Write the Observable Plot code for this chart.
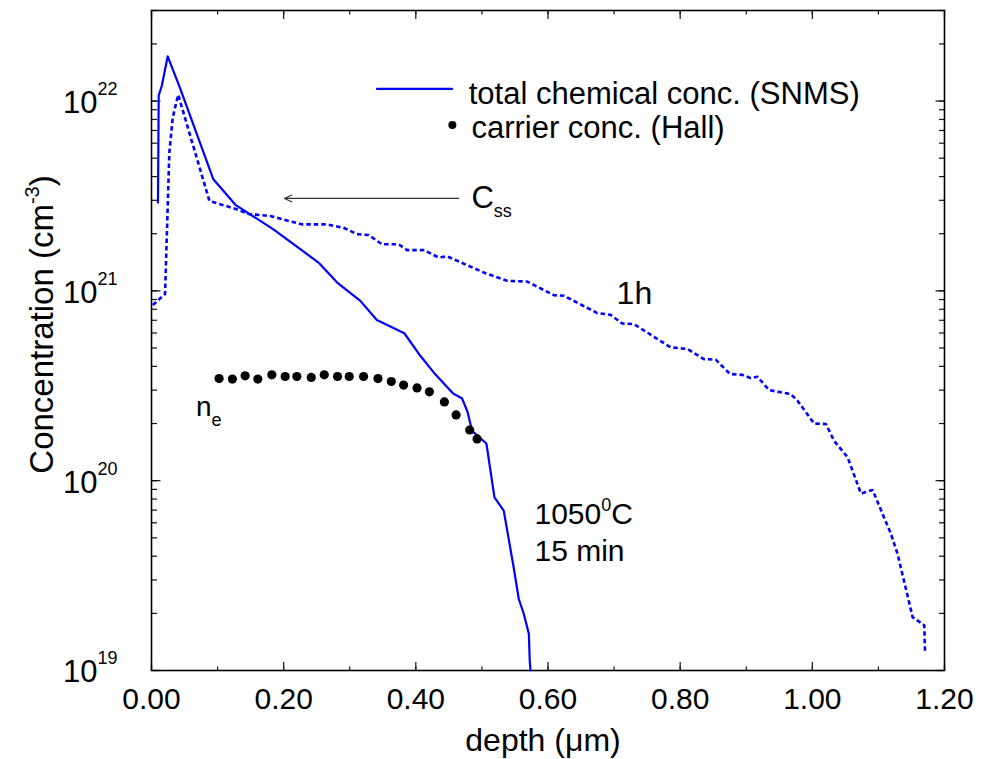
<!DOCTYPE html>
<html><head><meta charset="utf-8">
<script src="https://cdn.jsdelivr.net/npm/d3@7"></script>
<script src="https://cdn.jsdelivr.net/npm/@observablehq/plot@0.6"></script>
<style>body{margin:0;background:#fff}</style>
</head><body><div id="chart"></div>
<script>
// ---- data (depth in µm, concentration in cm^-3) ----
const snmsDepth = [0.0098, 0.0109, 0.0155, 0.0245, 0.0421, 0.0936, 0.127, 0.1845, 0.2527, 0.2806, 0.316, 0.341, 0.3826, 0.4068, 0.427, 0.4564, 0.470, 0.4785, 0.485, 0.5068, 0.519, 0.533, 0.548, 0.5558, 0.5633, 0.571, 0.5724, 0.5735];
const snmsConc = [2.92e21, 1.07e22, 1.20e22, 1.72e22, 1.20e22, 3.87e21, 2.84e21, 2.11e21, 1.41e21, 1.11e21, 8.86e20, 7.03e20, 5.98e20, 4.55e20, 3.72e20, 2.88e20, 2.71e20, 2.29e20, 1.83e20, 1.57e20, 8.17e19, 6.95e19, 3.50e19, 2.38e19, 1.99e19, 1.56e19, 1.12e19, 1.0e19];

const oneHourDepth = [0.002, 0.0205, 0.027, 0.0321, 0.038, 0.0406, 0.0432, 0.0876, 0.129, 0.1467, 0.1795, 0.2276, 0.2655, 0.2906, 0.311, 0.3285, 0.3488, 0.374, 0.3867, 0.4118, 0.4345, 0.4473, 0.5027, 0.538, 0.5685, 0.6088, 0.624, 0.6745, 0.6947, 0.7124, 0.730, 0.7856, 0.811, 0.836, 0.8538, 0.8755, 0.8942, 0.9068, 0.917, 0.9345, 0.9674, 0.9776, 1.0027, 1.0205, 1.033, 1.0533, 1.0735, 1.0912, 1.119, 1.129, 1.1518, 1.1694, 1.1705];
const oneHourConc = [8.43e20, 9.62e20, 5.35e21, 8.17e21, 1.0e22, 1.08e22, 1.0e22, 2.98e21, 2.69e21, 2.54e21, 2.48e21, 2.24e21, 2.24e21, 2.15e21, 1.99e21, 1.97e21, 1.76e21, 1.76e21, 1.64e21, 1.64e21, 1.50e21, 1.52e21, 1.25e21, 1.13e21, 1.12e21, 9.49e20, 9.43e20, 7.64e20, 7.48e20, 6.73e20, 6.68e20, 5.04e20, 4.94e20, 4.37e20, 4.34e20, 3.65e20, 3.61e20, 3.47e20, 3.53e20, 3.0e20, 2.86e20, 2.64e20, 2.0e20, 1.99e20, 1.62e20, 1.33e20, 8.57e19, 8.93e19, 5.24e19, 4.11e19, 1.91e19, 1.73e19, 1.25e19];

const hallDepth = [0.1023, 0.1224, 0.1417, 0.1609, 0.1821, 0.2023, 0.22, 0.2417, 0.2614, 0.2815, 0.2992, 0.3209, 0.3427, 0.3629, 0.3815, 0.4018, 0.4205, 0.4432, 0.4609, 0.4815, 0.4927];
const hallConc = [3.45e20, 3.43e20, 3.57e20, 3.43e20, 3.61e20, 3.54e20, 3.54e20, 3.50e20, 3.61e20, 3.54e20, 3.54e20, 3.54e20, 3.45e20, 3.33e20, 3.19e20, 3.08e20, 2.94e20, 2.60e20, 2.22e20, 1.85e20, 1.66e20];

const xTickLabels = [0, 0.2, 0.4, 0.6, 0.8, 1.0, 1.2];
const yTickLabels = [1e19, 1e20, 1e21, 1e22];
const legendLabels = ["total chemical conc. (SNMS)", "carrier conc. (Hall)"];
const xTitle = "depth (μm)";
const yTitle = "Concentration (cm^{-3})";

// annotation anchors in data coordinates
const legendLine = [{depth: 0.3412, conc: 1.16e22}, {depth: 0.4549, conc: 1.16e22}];
const legendDot = [{depth: 0.4553, conc: 7.48e21}];
const legendText = [
  {depth: 0.48, conc: 9.6e21, label: legendLabels[0]},
  {depth: 0.4841, conc: 6.4e21, label: legendLabels[1]}
];
const notes = [
  {depth: 0.4841, conc: 2.72e21, label: "C_{ss}", size: 31},
  {depth: 0.7038, conc: 8.57e20, label: "1h", size: 32},
  {depth: 0.0674, conc: 2.20e20, label: "n_{e}", size: 28},
  {depth: 0.5795, conc: 5.89e19, label: "1050^{0}C", size: 30},
  {depth: 0.5795, conc: 3.79e19, label: "15 min", size: 30}
];
const cssArrow = [{from: 0.4648, to: 0.2012, conc: 3.07e21}];

// ---- build tables ----
const snms = snmsDepth.map((d, i) => ({depth: d, conc: snmsConc[i]}));
const oneHour = oneHourDepth.map((d, i) => ({depth: d, conc: oneHourConc[i]}));
const hall = hallDepth.map((d, i) => ({depth: d, conc: hallConc[i]}));

const minorY = [];
for (let e = 19; e <= 22; e++) for (let k = 1; k <= 9; k++) { const v = k * 10 ** e; if (v <= 3e22) minorY.push(v); }
const minorX = d3.range(0, 13).map(v => v / 10);

const font = "'Liberation Sans', Arial, Helvetica, sans-serif";
const blue = "#0000ff";
const blank = () => "";

const W = 981, H = 759, mT = 10, mB = 89, mL = 151, mR = 37;
const fw = W - mL - mR, fh = H - mT - mB;

// inward ticks: use the opposite-side axis shifted across the frame
const tickAxes = [];
const tk = {tickFormat: blank, label: null, stroke: "#111", strokeWidth: 1.2};
tickAxes.push(Plot.axisX({anchor: "top", dy: fh, ticks: minorX, tickSize: 4.5, ...tk}));   // bottom, inward
tickAxes.push(Plot.axisX({anchor: "top", dy: fh, ticks: xTickLabels, tickSize: 9, ...tk}));
tickAxes.push(Plot.axisX({anchor: "bottom", dy: -fh, ticks: minorX, tickSize: 4.5, ...tk})); // top, inward
tickAxes.push(Plot.axisX({anchor: "bottom", dy: -fh, ticks: xTickLabels, tickSize: 9, ...tk}));
tickAxes.push(Plot.axisY({anchor: "right", dx: -fw, ticks: minorY, tickSize: 5, ...tk}));   // left, inward
tickAxes.push(Plot.axisY({anchor: "right", dx: -fw, ticks: yTickLabels, tickSize: 8.5, ...tk}));
tickAxes.push(Plot.axisY({anchor: "left", dx: fw, ticks: minorY, tickSize: 5, ...tk}));     // right, inward
tickAxes.push(Plot.axisY({anchor: "left", dx: fw, ticks: yTickLabels, tickSize: 8.5, ...tk}));

const svg = Plot.plot({
  width: W, height: H,
  marginTop: mT, marginBottom: mB, marginLeft: mL, marginRight: mR,
  style: {fontFamily: font, background: "white", color: "black", overflow: "visible"},
  x: {domain: [0, 1.2]},
  y: {type: "log", domain: [1e19, 3e22]},
  marks: [
    ...tickAxes,
    Plot.axisX({anchor: "bottom", ticks: xTickLabels, tickSize: 0, tickPadding: 17, tickFormat: d3.format(".2f"), fontSize: 30, label: null}),
    Plot.axisY({anchor: "left", ticks: yTickLabels, tickSize: 0, tickPadding: 34, dy: 2, tickFormat: d => `10^{${Math.round(Math.log10(d))}}`, fontSize: 31, label: null}),
    Plot.frame({stroke: "black", strokeWidth: 1.6}),
    Plot.line(oneHour, {x: "depth", y: "conc", stroke: blue, strokeWidth: 2.6, strokeDasharray: "4.5,3", strokeLinecap: "butt"}),
    Plot.line(snms, {x: "depth", y: "conc", stroke: blue, strokeWidth: 2.2}),
    Plot.dot(hall, {x: "depth", y: "conc", r: 4.6, fill: "black", stroke: null}),
    // legend
    Plot.line(legendLine, {x: "depth", y: "conc", stroke: blue, strokeWidth: 2.2}),
    Plot.dot(legendDot, {x: "depth", y: "conc", r: 4, fill: "black", stroke: null}),
    Plot.text(legendText, {x: "depth", y: "conc", text: "label", textAnchor: "start", lineAnchor: "bottom", fontSize: 31, fill: "black"}),
    // arrow + annotations
    Plot.arrow(cssArrow, {x1: "from", x2: "to", y1: "conc", y2: "conc", stroke: "#333", strokeWidth: 1.1, headLength: 11, headAngle: 50}),
    Plot.text(notes, {x: "depth", y: "conc", text: "label", textAnchor: "start", lineAnchor: "bottom", fontSize: d => d.size, fill: "black"}),
    // axis titles
    Plot.text([xTitle], {frameAnchor: "bottom", text: d => d, lineAnchor: "bottom", dy: 80, dx: -5, fontSize: 32, fill: "black"}),
    Plot.text([yTitle], {frameAnchor: "left", text: d => d, rotate: -90, lineAnchor: "bottom", textAnchor: "middle", dx: -99, dy: -16, fontSize: 33, fill: "black"})
  ]
});

// rich text: ^{..} superscript, _{..} subscript
function richParams(s) {
  if (/^10\^\{\d+\}$/.test(s)) return {small: 18, sup: 18, sub: 0};
  if (s.startsWith("C_")) return {small: 18, sup: 0, sub: 9};
  if (s.startsWith("n_")) return {small: 18, sup: 0, sub: 10};
  if (s.startsWith("1050")) return {small: 18, sup: 13, sub: 0};
  if (s.startsWith("Concentration")) return {small: 20, sup: 14, sub: 0};
  return {small: 18, sup: 12, sub: 8};
}
d3.select(svg).selectAll("text").each(function () {
  const el = this;
  const s = el.textContent;
  if (!/[\^_]\{/.test(s)) return;
  const p = richParams(s);
  const parts = s.split(/([\^_]\{[^}]*\})/).filter(q => q !== "");
  el.textContent = "";
  let offset = 0;
  for (const q of parts) {
    const t = document.createElementNS("http://www.w3.org/2000/svg", "tspan");
    let target = 0, content = q, sz = null;
    if (q.startsWith("^{")) { target = -p.sup; content = q.slice(2, -1); sz = p.small; }
    else if (q.startsWith("_{")) { target = p.sub; content = q.slice(2, -1); sz = p.small; }
    const dy = target - offset;
    if (dy) t.setAttribute("dy", dy);
    offset = target;
    if (sz) t.setAttribute("font-size", sz);
    t.textContent = content;
    el.appendChild(t);
  }
});

document.getElementById("chart").appendChild(svg);
</script>
</body></html>
